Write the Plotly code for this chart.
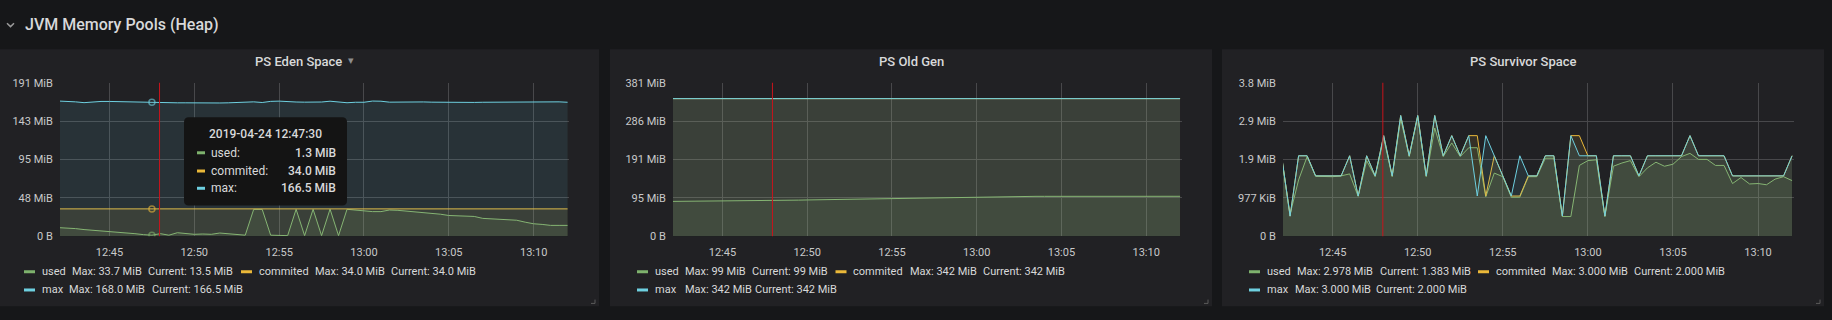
import pandas as pd
import plotly.graph_objects as go

W, H = 1832, 320
MIB = 1048576.0

# ---------------- data ----------------
times = pd.date_range("2019-04-24 12:42:00", periods=61, freq="30s")
x_range = ["2019-04-24 12:42:05", "2019-04-24 13:12:05"]
hover_index = 11
hover_label = "2019-04-24 12:47:30"
crosshair_time = "2019-04-24 12:47:57"

series_names = ["used", "commited", "max"]
series_colors = ["#7eb26d", "#eab839", "#6ed0e0"]

# PS Eden Space (MiB)
eden_used = [10.7, 10.3, 9.5, 8.3, 7.5, 6.3, 6.3, 5.2, 4.0, 3.2,
             2.0, 1.3, 3.2, 1.3, 4.4, 3.6, 2.4, 2.8, 2.4, 4.0,
             2.8, 2.0, 1.3, 33.4, 33.4, 1.3, 0.8, 0.8, 33.5, 0.8,
             33.5, 0.8, 33.7, 0.8, 33.5, 32.5, 31.8, 30.6, 30.6, 32.6,
             32.2, 31.4, 30.6, 29.8, 28.6, 27.4, 25.8, 25.4, 25.0, 24.6,
             22.2, 21.8, 20.7, 20.3, 19.9, 17.5, 15.5, 14.7, 13.5, 13.5,
             13.5]
eden_commited = [34.0, 34.0, 34.0, 34.0, 34.0, 34.0, 34.0, 34.0, 34.0, 34.0,
                 34.0, 34.0, 34.0, 34.0, 34.0, 34.0, 34.0, 34.0, 34.0, 34.0,
                 34.0, 34.0, 34.0, 34.0, 34.0, 34.0, 34.0, 34.0, 34.0, 34.0,
                 34.0, 34.0, 34.0, 34.0, 34.0, 34.0, 34.0, 34.0, 34.0, 34.0,
                 34.0, 34.0, 34.0, 34.0, 34.0, 34.0, 34.0, 34.0, 34.0, 34.0,
                 34.0, 34.0, 34.0, 34.0, 34.0, 34.0, 34.0, 34.0, 34.0, 34.0,
                 34.0]
eden_max = [168.0, 167.8, 167.0, 166.0, 166.9, 167.5, 167.5, 167.2, 167.2, 167.5,
            167.2, 166.5, 166.2, 166.0, 165.8, 165.8, 165.6, 165.6, 165.6, 165.6,
            165.8, 166.2, 166.8, 167.0, 166.2, 167.6, 167.9, 167.0, 166.8, 166.6,
            166.6, 166.8, 167.8, 166.6, 165.9, 166.5, 166.5, 168.0, 167.8, 166.6,
            166.8, 166.8, 166.9, 166.9, 166.6, 166.5, 166.5, 165.8, 165.5, 166.3,
            166.5, 166.6, 166.8, 167.0, 167.0, 167.0, 167.1, 167.1, 167.1, 167.0,
            166.5]

# PS Old Gen (MiB)
old_used = [86.6, 86.7, 86.8, 86.9, 87.0, 87.2, 87.3, 87.5, 87.6, 87.8,
            88.0, 88.2, 88.6, 89.0, 89.4, 89.8, 90.2, 90.6, 90.9, 91.3,
            91.6, 92.0, 92.3, 92.7, 93.0, 93.4, 93.7, 94.1, 94.5, 94.6,
            94.6, 94.7, 94.8, 95.5, 96.3, 97.0, 97.8, 98.5, 99.0, 99.0,
            99.1, 99.1, 99.1, 99.2, 99.2, 99.2, 99.2, 99.2, 99.2, 99.3,
            99.3, 99.3, 99.3, 99.3, 99.3, 99.3, 99.3, 99.3, 99.3, 99.3,
            99.3]
old_commited = [342.0, 342.0, 342.0, 342.0, 342.0, 342.0, 342.0, 342.0, 342.0, 342.0,
                342.0, 342.0, 342.0, 342.0, 342.0, 342.0, 342.0, 342.0, 342.0, 342.0,
                342.0, 342.0, 342.0, 342.0, 342.0, 342.0, 342.0, 342.0, 342.0, 342.0,
                342.0, 342.0, 342.0, 342.0, 342.0, 342.0, 342.0, 342.0, 342.0, 342.0,
                342.0, 342.0, 342.0, 342.0, 342.0, 342.0, 342.0, 342.0, 342.0, 342.0,
                342.0, 342.0, 342.0, 342.0, 342.0, 342.0, 342.0, 342.0, 342.0, 342.0,
                342.0]
old_max = [342.0, 342.0, 342.0, 342.0, 342.0, 342.0, 342.0, 342.0, 342.0, 342.0,
           342.0, 342.0, 342.0, 342.0, 342.0, 342.0, 342.0, 342.0, 342.0, 342.0,
           342.0, 342.0, 342.0, 342.0, 342.0, 342.0, 342.0, 342.0, 342.0, 342.0,
           342.0, 342.0, 342.0, 342.0, 342.0, 342.0, 342.0, 342.0, 342.0, 342.0,
           342.0, 342.0, 342.0, 342.0, 342.0, 342.0, 342.0, 342.0, 342.0, 342.0,
           342.0, 342.0, 342.0, 342.0, 342.0, 342.0, 342.0, 342.0, 342.0, 342.0,
           342.0]

# PS Survivor Space (MiB)
surv_used = [1.95, 0.55, 1.4, 1.98, 1.49, 1.49, 1.48, 1.5, 1.55, 0.99,
             1.88, 1.48, 2.44, 1.48, 2.92, 1.98, 2.978, 1.48, 2.69, 1.98,
             2.32, 1.98, 2.2, 2.2, 0.98, 1.57, 1.48, 0.97, 0.97, 1.48,
             1.48, 1.94, 1.94, 0.49, 0.49, 1.76, 1.88, 1.9, 0.49, 1.74,
             1.82, 1.88, 1.48, 1.7, 1.84, 1.74, 1.79, 1.98, 2.06, 1.91,
             1.91, 1.76, 1.76, 1.31, 1.46, 1.30, 1.31, 1.28, 1.42, 1.48,
             1.383]
surv_commited = [2.0, 0.5, 2.0, 2.0, 1.5, 1.5, 1.5, 1.5, 2.0, 1.0,
                 2.0, 1.5, 2.5, 1.5, 3.0, 2.0, 3.0, 1.5, 3.0, 2.0,
                 2.5, 2.0, 2.5, 2.5, 1.0, 2.0, 1.5, 1.0, 1.0, 1.5,
                 1.5, 2.0, 2.0, 0.5, 2.5, 2.5, 2.0, 2.0, 0.5, 2.0,
                 2.0, 2.0, 1.5, 2.0, 2.0, 2.0, 2.0, 2.0, 2.5, 2.0,
                 2.0, 2.0, 2.0, 1.5, 1.5, 1.5, 1.5, 1.5, 1.5, 1.5,
                 2.0]
surv_max = [2.0, 0.5, 2.0, 2.0, 1.5, 1.5, 1.5, 1.5, 2.0, 1.0,
            2.0, 1.5, 2.5, 1.5, 3.0, 2.0, 3.0, 1.5, 3.0, 2.0,
            2.5, 2.0, 2.5, 1.0, 2.5, 2.0, 1.5, 1.0, 2.0, 1.5,
            1.5, 2.0, 2.0, 0.5, 2.5, 2.0, 2.0, 2.0, 0.5, 2.0,
            2.0, 2.0, 1.5, 2.0, 2.0, 2.0, 2.0, 2.0, 2.5, 2.0,
            2.0, 2.0, 2.0, 1.5, 1.5, 1.5, 1.5, 1.5, 1.5, 1.5,
            2.0]

# axis ticks (bytes) and labels
eden_tick_bytes = [0, 50e6, 100e6, 150e6, 200e6]
eden_tick_labels = ["0 B", "48 MiB", "95 MiB", "143 MiB", "191 MiB"]
old_tick_bytes = [0, 100e6, 200e6, 300e6, 400e6]
old_tick_labels = ["0 B", "95 MiB", "191 MiB", "286 MiB", "381 MiB"]
surv_tick_bytes = [0, 1e6, 2e6, 3e6, 4e6]
surv_tick_labels = ["0 B", "977 KiB", "1.9 MiB", "2.9 MiB", "3.8 MiB"]

# legend texts
eden_legend_max = ["33.7 MiB", "34.0 MiB", "168.0 MiB"]
eden_legend_cur = ["13.5 MiB", "34.0 MiB", "166.5 MiB"]
old_legend_max = ["99 MiB", "342 MiB", "342 MiB"]
old_legend_cur = ["99 MiB", "342 MiB", "342 MiB"]
surv_legend_max = ["2.978 MiB", "3.000 MiB", "3.000 MiB"]
surv_legend_cur = ["1.383 MiB", "2.000 MiB", "2.000 MiB"]

tooltip_values = ["1.3 MiB", "34.0 MiB", "166.5 MiB"]

row_title = "JVM Memory Pools (Heap)"
panel_titles = ["PS Eden Space", "PS Old Gen", "PS Survivor Space"]

# ---------------- style / layout ----------------
PAGE_BG = "#161719"
PANEL_BG = "#212124"
TEXT = "#d8d9da"
TICK_TEXT = "#c8c9ca"
GRID = "#48484b"
FONT = "Roboto"


def px(x):
    return x / W


def py(y):
    return 1 - y / H


panels = [
    dict(title=panel_titles[0], box=(0, 599), plot=(60, 569), series=[eden_used, eden_commited, eden_max],
         tb=eden_tick_bytes, tl=eden_tick_labels, lmax=eden_legend_max, lcur=eden_legend_cur,
         title_x=298, caret=True,
         leg=[(24, 40, 70, 146, 277), (241, 257, 313, 389, 277), (24, 40, 67, 150, 296)]),
    dict(title=panel_titles[1], box=(610, 1212), plot=(673, 1181.5), series=[old_used, old_commited, old_max],
         tb=old_tick_bytes, tl=old_tick_labels, lmax=old_legend_max, lcur=old_legend_cur,
         title_x=911, caret=False,
         leg=[(637, 652.5, 683, 750, 277), (835.5, 851.3, 907.5, 980.6, 277), (637, 652.5, 683, 753.3, 296)]),
    dict(title=panel_titles[2], box=(1222, 1824), plot=(1283, 1793.5), series=[surv_used, surv_commited, surv_max],
         tb=surv_tick_bytes, tl=surv_tick_labels, lmax=surv_legend_max, lcur=surv_legend_cur,
         title_x=1523, caret=False,
         leg=[(1249, 1264.6, 1294.9, 1377.5, 277), (1478, 1494, 1549.9, 1632.2, 277), (1249, 1264.6, 1292.5, 1374.4, 296)]),
]

PLOT_TOP, PLOT_BOTTOM = 80, 240
PANEL_TOP, PANEL_BOTTOM = 45, 313


def hex_rgba(h, a):
    h = h.lstrip("#")
    r, g, b = int(h[0:2], 16), int(h[2:4], 16), int(h[4:6], 16)
    return f"rgba({r},{g},{b},{a})"


fig = go.Figure()
shapes = []
annotations = []
layout_axes = {}

for i, p in enumerate(panels):
    sfx = "" if i == 0 else str(i + 1)
    xa, ya = "x" + sfx, "y" + sfx
    # panel background
    shapes.append(dict(type="rect", xref="paper", yref="paper", layer="below",
                       x0=px(p["box"][0]), x1=px(p["box"][1]), y0=py(PANEL_BOTTOM), y1=py(PANEL_TOP),
                       fillcolor=PANEL_BG, line=dict(width=0)))
    # series
    for name, color, vals in zip(series_names, series_colors, p["series"]):
        fig.add_trace(go.Scatter(x=times, y=vals, mode="lines", name=name, xaxis=xa, yaxis=ya,
                                 line=dict(color=color, width=1), fill="tozeroy",
                                 fillcolor=hex_rgba(color, 0.1), showlegend=False, hoverinfo="skip"))
    ymax = p["tb"][-1] / MIB
    layout_axes["xaxis" + sfx] = dict(
        domain=[px(p["plot"][0]), px(p["plot"][1])], anchor=ya, type="date", range=x_range,
        tick0="2019-04-24 12:45:00", dtick=300000, tickformat="%H:%M",
        showgrid=True, gridcolor=GRID, gridwidth=1, zeroline=False, showline=False,
        ticks="outside", ticklen=6, tickcolor="rgba(0,0,0,0)",
        tickfont=dict(family=FONT, size=11, color=TICK_TEXT), fixedrange=True)
    layout_axes["yaxis" + sfx] = dict(
        domain=[py(PLOT_BOTTOM), py(PLOT_TOP)], anchor=xa, range=[0, ymax],
        tickvals=[b / MIB for b in p["tb"]], ticktext=p["tl"],
        showgrid=True, gridcolor=GRID, gridwidth=1, zeroline=False, showline=False,
        ticks="outside", ticklen=4, tickcolor="rgba(0,0,0,0)",
        tickfont=dict(family=FONT, size=11, color=TICK_TEXT), fixedrange=True)
    # crosshair
    shapes.append(dict(type="line", xref=xa, yref=ya + " domain", x0=crosshair_time, x1=crosshair_time,
                       y0=0, y1=1, line=dict(color="#c8141c", width=1)))
    # title
    annotations.append(dict(text=p["title"], x=px(p["title_x"]), y=py(58), xref="paper", yref="paper",
                            xanchor="center", yanchor="middle", showarrow=False,
                            font=dict(family=FONT, size=13, color=TEXT, weight=500)))
    if p["caret"]:
        annotations.append(dict(text="▾", x=px(346), y=py(57), xref="paper", yref="paper",
                                xanchor="left", yanchor="middle", showarrow=False,
                                font=dict(family="DejaVu Sans", size=11, color="#8e8e8e")))
    # legend
    for (sw, nx, mx, cx, ry), name, color, lm, lc in zip(p["leg"], series_names, series_colors, p["lmax"], p["lcur"]):
        shapes.append(dict(type="line", xref="paper", yref="paper", x0=px(sw), x1=px(sw + 11),
                           y0=py(ry), y1=py(ry), line=dict(color=color, width=3)))
        for tx, t in ((nx, name), (mx, "Max: " + lm), (cx, "Current: " + lc)):
            annotations.append(dict(text=t, x=px(tx), y=py(ry), xref="paper", yref="paper",
                                    xanchor="left", yanchor="middle", showarrow=False,
                                    font=dict(family=FONT, size=11, color=TEXT)))
    # resize handle
    bx = p["box"][1]
    shapes.append(dict(type="path", xref="paper", yref="paper",
                       path=f"M {px(bx-8)},{py(310)} L {px(bx-4)},{py(310)} L {px(bx-4)},{py(306)}",
                       line=dict(color="#5a5a5a", width=1)))

# hover markers on first panel
for name, color, vals in zip(series_names, series_colors, panels[0]["series"]):
    fig.add_trace(go.Scatter(x=[times[hover_index]], y=[vals[hover_index]], mode="markers",
                             xaxis="x", yaxis="y", showlegend=False, hoverinfo="skip",
                             marker=dict(symbol="circle-open", size=6, color=color, opacity=0.6,
                                         line=dict(width=1.5, color=color))))

# row header
annotations.append(dict(text=row_title, x=px(23), y=py(19), xref="paper", yref="paper",
                        xanchor="left", yanchor="middle", showarrow=False,
                        font=dict(family=FONT, size=16, color=TEXT, weight=500)))
shapes.append(dict(type="path", xref="paper", yref="paper",
                   path=f"M {px(7)},{py(18)} L {px(10.5)},{py(21.5)} L {px(14)},{py(18)}",
                   line=dict(color="#9a9a9a", width=1.5)))


# tooltip
def rrect(x0, y0, x1, y1, r):
    pts = [
        f"M {px(x0 + r)},{py(y0)}", f"L {px(x1 - r)},{py(y0)}",
        f"Q {px(x1)},{py(y0)} {px(x1)},{py(y0 + r)}", f"L {px(x1)},{py(y1 - r)}",
        f"Q {px(x1)},{py(y1)} {px(x1 - r)},{py(y1)}", f"L {px(x0 + r)},{py(y1)}",
        f"Q {px(x0)},{py(y1)} {px(x0)},{py(y1 - r)}", f"L {px(x0)},{py(y0 + r)}",
        f"Q {px(x0)},{py(y0)} {px(x0 + r)},{py(y0)}", "Z"]
    return " ".join(pts)


shapes.append(dict(type="path", xref="paper", yref="paper", path=rrect(184, 116, 347, 208, 5),
                   fillcolor="#141414", line=dict(width=0), layer="above"))
annotations.append(dict(text=hover_label, x=px(265.5), y=py(133), xref="paper", yref="paper",
                        xanchor="center", yanchor="middle", showarrow=False,
                        font=dict(family=FONT, size=12, color=TEXT, weight=500)))
for ry, name, color, val in zip((153, 172, 190), series_names, series_colors, tooltip_values):
    shapes.append(dict(type="line", xref="paper", yref="paper", x0=px(197), x1=px(205),
                       y0=py(ry), y1=py(ry), line=dict(color=color, width=3), layer="above"))
    annotations.append(dict(text=name + ":", x=px(209), y=py(ry), xref="paper", yref="paper",
                            xanchor="left", yanchor="middle", showarrow=False,
                            font=dict(family=FONT, size=12, color=TEXT)))
    annotations.append(dict(text=val, x=px(338), y=py(ry), xref="paper", yref="paper",
                            xanchor="right", yanchor="middle", showarrow=False,
                            font=dict(family=FONT, size=12, color=TEXT, weight=500)))

fig.update_layout(
    width=W, height=H, margin=dict(l=0, r=0, t=0, b=0),
    paper_bgcolor=PAGE_BG, plot_bgcolor=PANEL_BG,
    showlegend=False, hovermode=False,
    font=dict(family=FONT, color=TEXT),
    shapes=shapes, annotations=annotations,
    **layout_axes,
)

fig.write_html("out.html", config={"displayModeBar": False, "staticPlot": True},
               post_script="document.body.style.margin='0';document.body.style.background='#161719';")
